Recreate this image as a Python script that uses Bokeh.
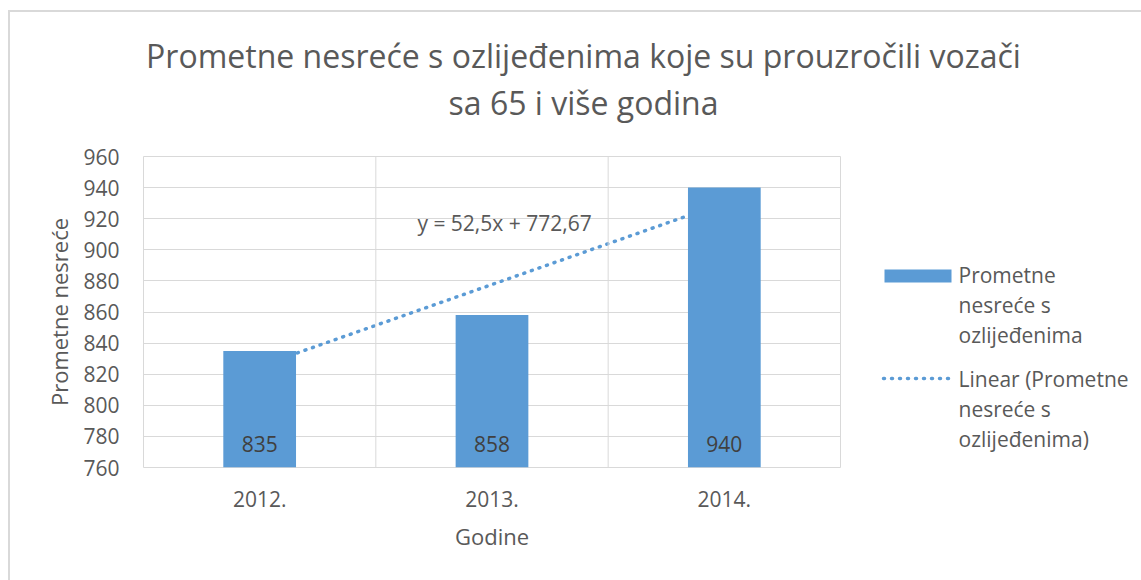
import numpy as np
from bokeh.plotting import figure
from bokeh.layouts import column, row
from bokeh.models import (ColumnDataSource, Label, LabelSet, Span, FixedTicker, Range1d)
from bokeh.embed import file_html
from bokeh.resources import INLINE
from bokeh.core.properties import value

# ---------------- data ----------------
title_lines = ["Prometne nesreće s ozlijeđenima koje su prouzročili vozači",
               "sa 65 i više godina"]
years = ["2012.", "2013.", "2014."]
accidents = [835, 858, 940]
y_ticks = [760, 780, 800, 820, 840, 860, 880, 900, 920, 940, 960]
x_title = "Godine"
y_title = "Prometne nesreće"
legend_bar = ["Prometne", "nesreće s", "ozlijeđenima"]
legend_trend = ["Linear (Prometne", "nesreće s", "ozlijeđenima)"]

# linear trend (Excel style, x = 1..n)
xs = np.arange(1, len(accidents) + 1)
slope, intercept = np.polyfit(xs, accidents, 1)
trend = list(intercept + slope * xs)
eq_text = "y = {}x + {}".format(
    ("%.1f" % slope).replace(".", ","), ("%.2f" % intercept).replace(".", ","))

# ---------------- style / layout ----------------
FONT = "Open Sans"
TXT = "#595959"
GRID = "#d9d9d9"
BLUE = "#5b9bd5"
PW, PH = 1141, 580                  # page
OX, OY = 10, 12                     # content origin (after border)
TOP_H = 122                         # title strip height
MAIN_R = 841                        # right edge of main figure (page px)
FL, FR, FT, FB = 143, 840, 156, 467  # frame edges (page px)


def blank(fig):
    fig.axis.visible = False
    fig.grid.visible = False
    fig.outline_line_color = None
    fig.background_fill_color = "white"
    fig.border_fill_color = "white"
    return fig


# ---- title strip (page coordinates, y downwards) ----
tfig = blank(figure(width=PW - OX, height=TOP_H, output_backend="svg",
                    toolbar_location=None, min_border=0,
                    x_range=Range1d(OX, PW), y_range=Range1d(OY + TOP_H, OY)))
tfig.text(x=[583, 583], y=[55, 102], text=title_lines, text_align="center",
          text_baseline="middle", text_font=value(FONT), text_font_size="32px",
          text_color=TXT)

# ---- main chart ----
MY0 = OY + TOP_H
MH = PH - MY0
p = figure(x_range=years, y_range=(y_ticks[0], y_ticks[-1]),
           width=MAIN_R - OX, height=MH, output_backend="svg", toolbar_location=None,
           min_border_left=FL - OX, min_border_right=MAIN_R - FR,
           min_border_top=FT - MY0, min_border_bottom=PH - FB)
p.background_fill_color = "white"
p.border_fill_color = "white"
p.outline_line_color = GRID
p.outline_line_width = 1

src = ColumnDataSource(dict(year=years, val=accidents, trend=trend,
                            base=[y_ticks[0]] * len(years),
                            lab=[str(v) for v in accidents]))

# trend line (behind bars)
p.line(x="year", y="trend", source=src, line_color=BLUE, line_width=3.5,
       line_dash="1 7", line_cap="round")
# bars
p.vbar(x="year", top="val", bottom=y_ticks[0], width=0.313, source=src,
       fill_color=BLUE, line_color=None)

# data labels
p.add_layout(LabelSet(x="year", y="base", text="lab", source=src, y_offset=24,
                      text_align="center", text_baseline="middle",
                      text_font=value(FONT), text_font_size="21px",
                      text_color="#404040"))

# axes
p.yaxis.ticker = FixedTicker(ticks=y_ticks)
for ax in (p.xaxis[0], p.yaxis[0]):
    ax.axis_line_color = None
    ax.major_tick_line_color = None
    ax.minor_tick_line_color = None
    ax.major_label_text_font = FONT
    ax.major_label_text_font_size = "21px"
    ax.major_label_text_color = TXT
    ax.axis_label_text_font = FONT
    ax.axis_label_text_font_size = "22px"
    ax.axis_label_text_color = TXT
    ax.axis_label_text_font_style = "normal"
p.xaxis.axis_label = x_title
p.yaxis.axis_label = y_title
p.yaxis.major_label_standoff = 18
p.yaxis.axis_label_standoff = 6
p.xaxis.major_label_standoff = 17
p.xaxis.axis_label_standoff = 11

p.ygrid.grid_line_color = GRID
p.ygrid.grid_line_width = 1
p.xgrid.grid_line_color = None
for k in range(1, len(years)):
    p.add_layout(Span(location=k, dimension="height", line_color=GRID, line_width=1))

# trend equation
p.add_layout(Label(x=1.554, y=917, text=eq_text, text_align="center",
                   text_baseline="middle", text_font=FONT,
                   text_font_size="21px", text_color=TXT))

# ---- legend panel (page coordinates, y downwards; frame aligned with main) ----
lfig = blank(figure(width=PW - MAIN_R, height=MH, output_backend="svg",
                    toolbar_location=None,
                    min_border_left=0, min_border_right=0,
                    min_border_top=FT - MY0, min_border_bottom=PH - FB,
                    x_range=Range1d(MAIN_R, PW), y_range=Range1d(FB, FT)))
lfig.quad(left=[884], right=[951], top=[269], bottom=[282],
          fill_color=BLUE, line_color=None)
lfig.line(x=[883, 953], y=[378, 378], line_color=BLUE, line_width=3.5,
          line_dash="1 7", line_cap="round")
LY = [274, 304, 334, 378, 408, 438]
lfig.text(x=[958] * 6, y=LY, text=legend_bar + legend_trend, text_align="left",
          text_baseline="middle", text_font=value(FONT), text_font_size="21px",
          text_color=TXT)

layout = column(tfig, row(p, lfig, spacing=0), spacing=0)
layout.styles = {"margin-left": "8px", "margin-top": "10px",
                 "border-left": "2px solid #d9d9d9", "border-top": "2px solid #d9d9d9"}

open("out.html", "w").write(file_html(layout, INLINE))
